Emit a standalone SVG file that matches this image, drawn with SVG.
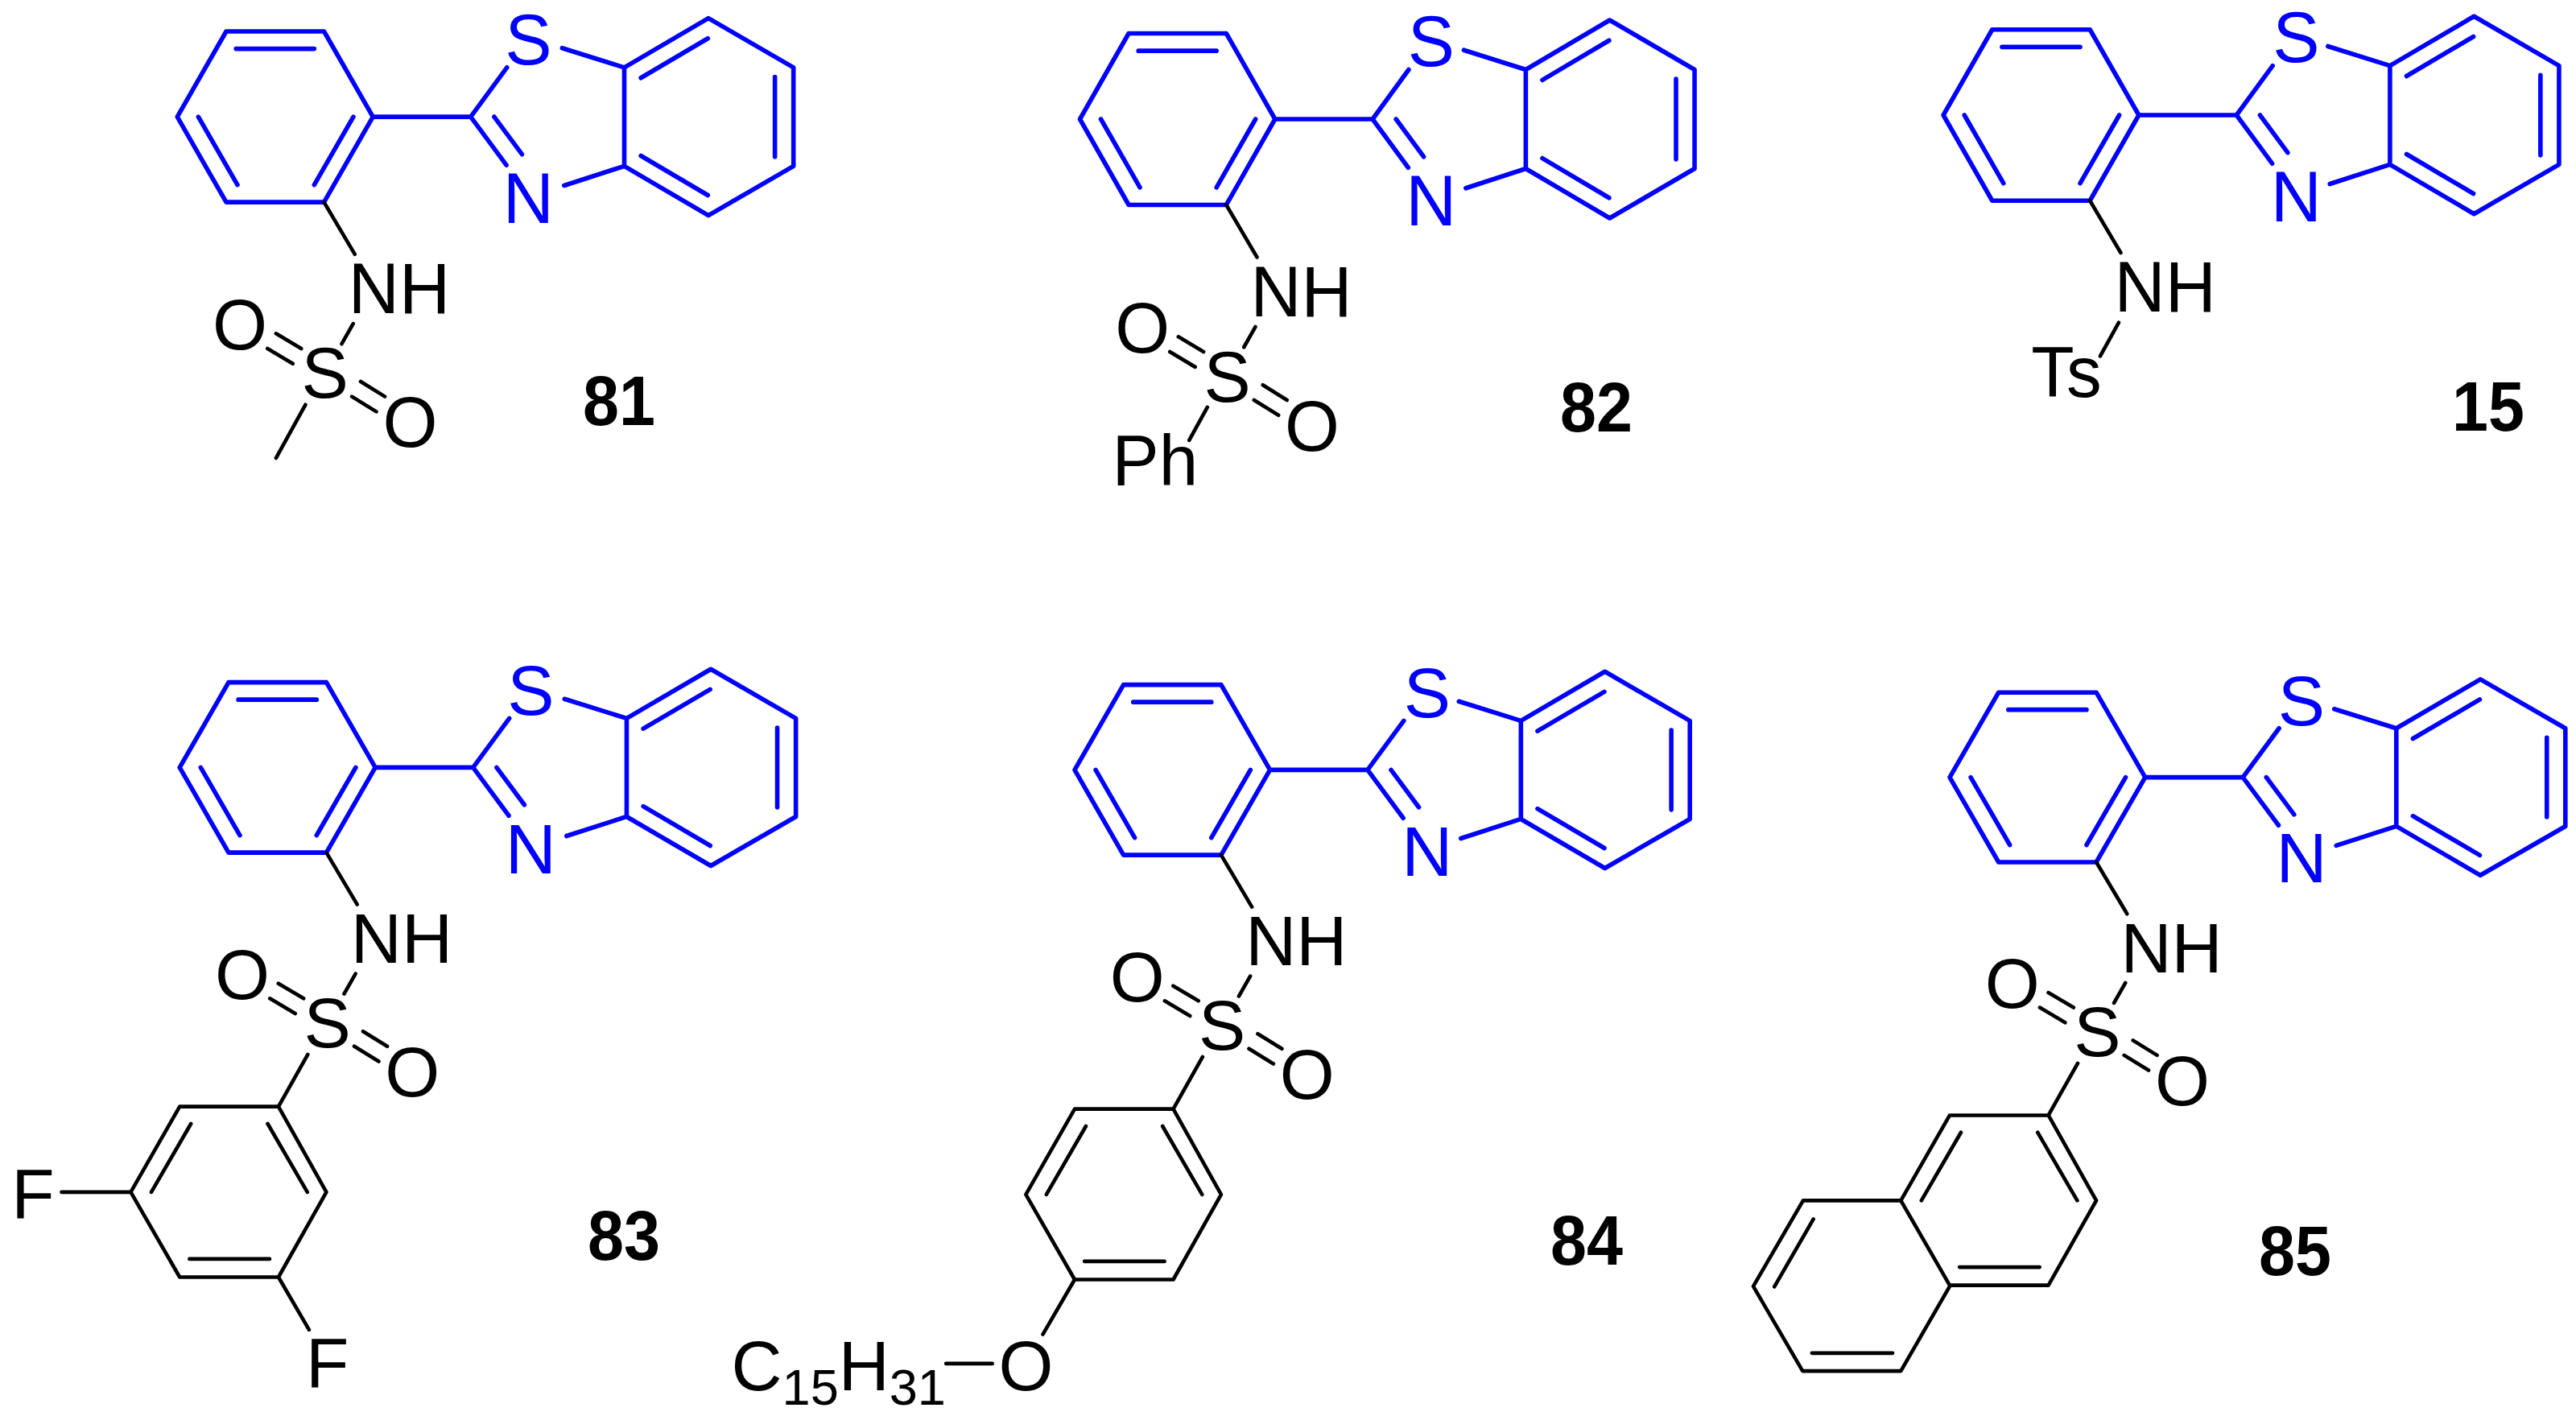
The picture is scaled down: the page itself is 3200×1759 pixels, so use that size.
<svg xmlns="http://www.w3.org/2000/svg" xmlns:xlink="http://www.w3.org/1999/xlink" width="3200" height="1759" viewBox="0 0 3200 1759">
<style>
.b{fill:none;stroke:#0000ff;stroke-width:4.6;stroke-linecap:round;stroke-linejoin:round}
.k{fill:none;stroke:#000;stroke-width:3.8;stroke-linecap:round;stroke-linejoin:round}
text{font-family:"Liberation Sans",Arial,sans-serif;font-size:72px;fill:#000}
.bl{fill:#0000ff;text-anchor:middle}
.m{text-anchor:middle}
.sub{font-size:52px}
.num{font-size:87px;font-weight:bold;text-anchor:middle}
</style>
<defs>
<path id="core" class="b" d="M-50 -86.6H50L100 0 50 86.6H-50L-100 0ZM-40 -69H40M-78.5 0L-38.5 69M80 0L40 69M100 0H200M237 -50L200 0 236.5 49M224 0L252.4 38M293.5 -69.7L357 -50 443 -100 530 -50V50L443 100 357 50 295.5 69.7M357 -50V50M374 -39.5L442.4 -79.5M511 -40.5V40.5M374 39.5L442.4 79.5"/>
<path id="nh" class="k" d="M50 86.6L81.5 139.4"/>
<path id="so2" class="k" d="M79.8 209.8L68.1 230.3M.9 219.8L26.7 235M-7.8 235L18.1 250.3M87.5 268.5L112.2 283.7M78.5 283.7L103.5 299"/>
<path id="aryl" class="k" d="M31 292L1 345M1 345H-100L-150 432-100 518.5H1L50 432ZM-88.5 362.5L-129 432M-10 362.5L30.5 432M-90 500H-8"/>
</defs>
<g id="connectors">
<g transform="translate(341.75 145.1) scale(1.215 1.225)"><use href="#core"/><use href="#nh"/><use href="#so2"/><path class="k" d="M31 292L1 346"/></g>
<g transform="translate(1462.7 148) scale(1.212 1.23)"><use href="#core"/><use href="#nh"/><use href="#so2"/><path class="k" d="M30.6 291L12 324.3"/></g>
<g transform="translate(2535.5 143) scale(1.214 1.227)"><use href="#core"/><use href="#nh"/><path class="k" d="M79.5 210L60.5 244"/></g>
<g transform="translate(344.7 953.4) scale(1.215 1.221)"><use href="#core"/><use href="#nh"/><use href="#so2"/><use href="#aryl"/><path class="k" d="M-150 432H-220.8M1 518.5L32.3 572"/></g>
<g transform="translate(1456.3 956.4) scale(1.213 1.221)"><use href="#core"/><use href="#nh"/><use href="#so2"/><use href="#aryl"/><path class="k" d="M-100 518.5L-132.6 574.3M-184.3 604H-231.8"/></g>
<g transform="translate(2543.4 965.6) scale(1.214 1.217)"><use href="#core"/><use href="#nh"/><use href="#so2"/><use href="#aryl"/><path class="k" d="M-150 432H-250L-301 519.5-250.5 606H-150L-100 519.5M-239.5 451L-279.4 520M-241 587.7H-158.4"/></g>
</g>
<g id="compound-81">
<g transform="translate(341.75 145.1) scale(1.215 1.225)">
<text class="bl" x="259" y="-53.5">S</text><text class="bl" x="259" y="107.4">N</text>
<text x="75" y="199">NH</text><text class="m" x="51" y="285">S</text><text class="m" x="-36" y="235.5">O</text><text class="m" x="138" y="334.8">O</text>
</g>
<text class="num" transform="translate(769 528) scale(.93 1)">81</text>
</g>
<g id="compound-82">
<g transform="translate(1462.7 148) scale(1.212 1.23)">
<text class="bl" x="260" y="-53.5">S</text><text class="bl" x="260" y="107.4">N</text>
<text x="75" y="199">NH</text><text class="m" x="51" y="285">S</text><text class="m" x="-36" y="235.5">O</text><text class="m" x="138" y="334.8">O</text>
<text x="-67" y="370">Ph</text>
</g>
<text class="num" transform="translate(1983 536) scale(.93 1)">82</text>
</g>
<g id="compound-15">
<g transform="translate(2535.5 143) scale(1.214 1.227)">
<text class="bl" x="261" y="-53.5">S</text><text class="bl" x="261" y="107.4">N</text>
<text x="75" y="199">NH</text><text x="-10" y="285">Ts</text>
</g>
<text class="num" transform="translate(3091 535) scale(.93 1)">15</text>
</g>
<g id="compound-83">
<g transform="translate(344.7 953.4) scale(1.215 1.221)">
<text class="bl" x="259" y="-53.5">S</text><text class="bl" x="259" y="107.4">N</text>
<text x="75" y="199">NH</text><text class="m" x="51" y="285">S</text><text class="m" x="-36" y="235.5">O</text><text class="m" x="138" y="334.8">O</text>
<text x="-272" y="458">F</text><text x="29" y="630">F</text>
</g>
<text class="num" transform="translate(775 1565) scale(.93 1)">83</text>
</g>
<g id="compound-84">
<g transform="translate(1456.3 956.4) scale(1.213 1.221)">
<text class="bl" x="261" y="-53.5">S</text><text class="bl" x="261" y="107.4">N</text>
<text x="75" y="199">NH</text><text class="m" x="51" y="285">S</text><text class="m" x="-36" y="235.5">O</text><text class="m" x="138" y="334.8">O</text>
<text x="-451.6" y="631.5">C<tspan class="sub" dy="14">15</tspan><tspan dy="-14">H</tspan><tspan class="sub" dy="14">31</tspan></text>
<text class="m" x="-150" y="631.5">O</text>
</g>
<text class="num" transform="translate(1971 1571) scale(.93 1)">84</text>
</g>
<g id="compound-85">
<g transform="translate(2543.4 965.6) scale(1.214 1.217)">
<text class="bl" x="260" y="-53.5">S</text><text class="bl" x="260" y="107.4">N</text>
<text x="75" y="199">NH</text><text class="m" x="51" y="285">S</text><text class="m" x="-36" y="235.5">O</text><text class="m" x="138" y="334.8">O</text>
</g>
<text class="num" transform="translate(2851 1584) scale(.93 1)">85</text>
</g>
</svg>
